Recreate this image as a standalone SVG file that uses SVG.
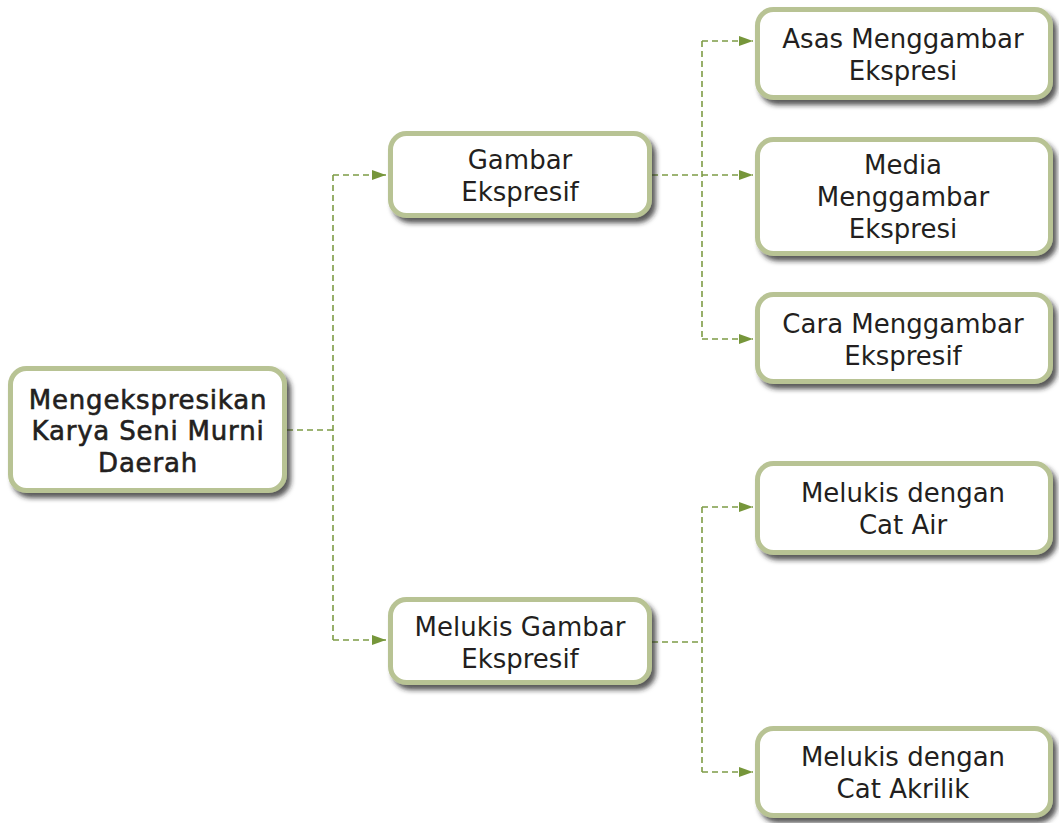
<svg xmlns="http://www.w3.org/2000/svg" width="1059" height="823" viewBox="0 0 1059 823">
<defs>
<filter id="sh" x="-10%" y="-10%" width="130%" height="140%">
<feDropShadow dx="4" dy="5" stdDeviation="2.5" flood-color="#222" flood-opacity="0.75"/>
</filter>
<marker id="ah" markerWidth="14" markerHeight="10" refX="14" refY="5" orient="auto" markerUnits="userSpaceOnUse">
<path d="M0,0 L14,5 L0,10 Z" fill="#76963a"/>
</marker>
<style>
.box{fill:#fff;stroke:#b8c394;stroke-width:5;filter:url(#sh)}
.t{font-family:"DejaVu Sans","Liberation Sans",sans-serif;font-size:26px;fill:#231f20;text-anchor:middle}
.b{stroke:#231f20;stroke-width:0.6px;letter-spacing:0.8px}
.c{fill:none;stroke:#7e9c45;stroke-width:1.6;stroke-dasharray:6,4}
</style>
</defs>
<rect width="1059" height="823" fill="#fff"/>
<g id="connectors">
<path class="c" d="M287,430 H333 M333,175 V640"/>
<path class="c" d="M333,175 H386" marker-end="url(#ah)"/>
<path class="c" d="M333,640 H386" marker-end="url(#ah)"/>
<path class="c" d="M652,175 H702 M702,41 V339"/>
<path class="c" d="M702,41 H753" marker-end="url(#ah)"/>
<path class="c" d="M702,175 H753" marker-end="url(#ah)"/>
<path class="c" d="M702,339 H753" marker-end="url(#ah)"/>
<path class="c" d="M652,642 H702 M702,507 V772"/>
<path class="c" d="M702,507 H753" marker-end="url(#ah)"/>
<path class="c" d="M702,772 H753" marker-end="url(#ah)"/>
</g>
<g id="root">
<rect class="box" x="10.5" y="368.5" width="274" height="122" rx="16"/>
<text class="t b" x="148" y="409">Mengekspresikan</text>
<text class="t b" x="148" y="440">Karya Seni Murni</text>
<text class="t b" x="148" y="472">Daerah</text>
</g>
<g id="gambar">
<rect class="box" x="390.5" y="133.5" width="259" height="82" rx="16"/>
<text class="t" x="520" y="169">Gambar</text>
<text class="t" x="520" y="201">Ekspresif</text>
</g>
<g id="melukis">
<rect class="box" x="390.5" y="599.5" width="259" height="83" rx="16"/>
<text class="t" x="520" y="636">Melukis Gambar</text>
<text class="t" x="520" y="668">Ekspresif</text>
</g>
<g id="asas">
<rect class="box" x="757.5" y="9.5" width="293" height="88" rx="16"/>
<text class="t" x="903" y="48">Asas Menggambar</text>
<text class="t" x="903" y="80">Ekspresi</text>
</g>
<g id="media">
<rect class="box" x="757.5" y="139.5" width="293" height="114" rx="16"/>
<text class="t" x="903" y="174">Media</text>
<text class="t" x="903" y="206">Menggambar</text>
<text class="t" x="903" y="238">Ekspresi</text>
</g>
<g id="cara">
<rect class="box" x="757.5" y="294.5" width="293" height="87" rx="16"/>
<text class="t" x="903" y="333">Cara Menggambar</text>
<text class="t" x="903" y="365">Ekspresif</text>
</g>
<g id="catair">
<rect class="box" x="757.5" y="463.5" width="293" height="89" rx="16"/>
<text class="t" x="903" y="502">Melukis dengan</text>
<text class="t" x="903" y="534">Cat Air</text>
</g>
<g id="akrilik">
<rect class="box" x="757.5" y="728.5" width="293" height="87" rx="16"/>
<text class="t" x="903" y="766">Melukis dengan</text>
<text class="t" x="903" y="798">Cat Akrilik</text>
</g>
</svg>
